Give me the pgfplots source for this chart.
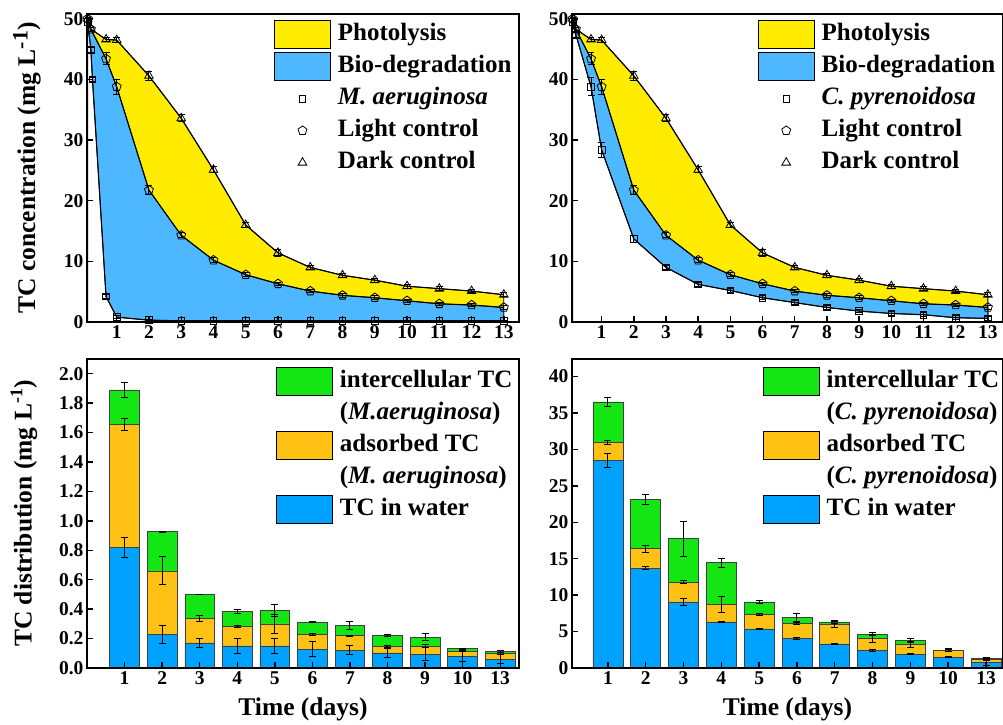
\documentclass[border=0pt]{standalone}
\usepackage{pgfplots}
\usepackage{pgfplotstable}
\pgfplotsset{compat=1.18}
\usepackage{fontspec}
\setmainfont{Liberation Serif}
\definecolor{photoyellow}{HTML}{FFEC00}
\definecolor{bioblue}{HTML}{4DB8FF}
\definecolor{barblue}{HTML}{00A2FF}
\definecolor{barorange}{HTML}{FFC214}
\definecolor{bargreen}{HTML}{14E614}

\pgfplotstableread{
x w we a ae g ge
0 0.820 0.070 0.837 0.040 0.233 0.050
1 0.229 0.060 0.431 0.095 0.266 0.003
2 0.170 0.030 0.166 0.020 0.164 0.002
3 0.150 0.050 0.130 0.007 0.106 0.015
4 0.150 0.050 0.150 0.065 0.090 0.040
5 0.129 0.050 0.100 0.005 0.082 0.005
6 0.120 0.030 0.100 0.004 0.068 0.025
7 0.102 0.030 0.046 0.006 0.074 0.006
8 0.093 0.045 0.055 0.010 0.061 0.025
9 0.080 0.035 0.033 0.003 0.019 0.003
10 0.059 0.030 0.039 0.005 0.015 0.005
}\blM

\pgfplotstableread{
x w we a ae g ge
0 28.45 0.94 2.52 0.30 5.53 0.55
1 13.70 0.20 2.66 0.50 6.74 0.70
2 9.07 0.45 2.71 0.20 5.95 2.40
3 6.32 0.10 2.43 1.10 5.68 0.60
4 5.36 0.10 1.97 0.10 1.74 0.20
5 4.03 0.10 2.06 0.10 0.83 0.60
6 3.30 0.10 2.66 0.40 0.36 0.20
7 2.43 0.10 1.60 0.50 0.60 0.20
8 1.92 0.10 1.29 0.40 0.55 0.30
9 1.51 0.10 0.92 0.10 0.04 0.20
10 0.73 0.40 0.42 0.10 0.22 0.10
}\blC

\pgfplotstableread{
t c e
0.1 50.0 0.2
0.2 48.3 0.3
0.67 46.6 0.4
1 46.5 0.4
2 40.6 0.8
3 33.6 0.6
4 25.1 0.5
5 16.0 0.4
6 11.4 0.6
7 9.0 0.3
8 7.7 0.3
9 6.9 0.3
10 5.9 0.3
11 5.5 0.3
12 5.1 0.3
13 4.5 0.3
}\dark

\pgfplotstableread{
t c e
0.1 50.0 0.2
0.2 48.3 0.3
0.67 43.4 1.0
1 38.8 1.2
2 21.75 0.7
3 14.3 0.4
4 10.2 0.4
5 7.8 0.3
6 6.3 0.3
7 5.1 0.3
8 4.4 0.3
9 4.0 0.3
10 3.5 0.3
11 3.0 0.3
12 2.8 0.3
13 2.4 0.4
}\light

\pgfplotstableread{
t c e
0.1 49.5 0.3
0.2 44.9 0.4
0.25 40.0 0.3
0.67 4.2 0.3
1 0.8 0.2
2 0.3 0.1
3 0.2 0.1
4 0.2 0.1
5 0.2 0.1
6 0.2 0.1
7 0.2 0.1
8 0.2 0.1
9 0.2 0.1
10 0.2 0.1
11 0.2 0.1
12 0.2 0.1
13 0.2 0.1
}\algM

\pgfplotstableread{
t c e
0.1 49.5 0.3
0.2 47.4 0.4
0.67 38.8 1.5
1 28.4 1.2
2 13.7 0.5
3 9.0 0.3
4 6.2 0.3
5 5.2 0.3
6 4.0 0.3
7 3.2 0.3
8 2.4 0.3
9 1.8 0.3
10 1.4 0.3
11 1.2 0.3
12 0.7 0.3
13 0.6 0.3
}\algC

\pgfplotsset{
 base/.style={scale only axis, axis on top,
  axis line style={line width=2.2pt},
  tick style={line width=1.4pt, black}, major tick length=6pt,
  xtick pos=bottom, ytick pos=left, tick align=inside,
  tick label style={font=\fontsize{19.5}{20}\selectfont\bfseries},
  /pgf/number format/assume math mode=true,
  label style={font=\fontsize{25.5}{26}\selectfont\bfseries},
  legend style={draw=none, fill=none, inner sep=0pt, outer sep=0pt, anchor=north west,
    font=\fontsize{25}{26}\selectfont\bfseries, row sep=0pt, column sep=7pt,
    nodes={inner sep=0pt, text height=22pt, text depth=10pt}},
  legend cell align=left},
 legphoto/.style={legend image code/.code={\draw[fill=photoyellow,draw=black,line width=0.9pt] (0pt,-14pt) rectangle (56pt,14pt);}},
 legbio/.style={legend image code/.code={\draw[fill=bioblue,draw=black,line width=0.9pt] (0pt,-14pt) rectangle (56pt,14pt);}},
 leggreen/.style={legend image code/.code={\draw[fill=bargreen,draw=black,line width=0.9pt] (0pt,-14pt) rectangle (56pt,14pt);}},
 legorange/.style={legend image code/.code={\draw[fill=barorange,draw=black,line width=0.9pt] (0pt,-14pt) rectangle (56pt,14pt);}},
 legblue/.style={legend image code/.code={\draw[fill=barblue,draw=black,line width=0.9pt] (0pt,-14pt) rectangle (56pt,14pt);}},
 legsq/.style={legend image code/.code={\draw[black,line width=0.8pt,mark=square,mark size=3.3pt,mark options={fill=white}] plot coordinates {(28pt,0pt)};}},
 legpent/.style={legend image code/.code={\draw[black,line width=0.8pt,mark=pentagon,mark size=4.7pt,mark options={fill=white}] plot coordinates {(28pt,0pt)};}},
 legtri/.style={legend image code/.code={\draw[black,line width=0.8pt,mark=triangle,mark size=5pt,mark options={fill=white}] plot coordinates {(28pt,0pt)};}},
 ln/.style={black, line width=1.1pt, mark options={fill=white, line width=0.8pt},
   error bars/y dir=both, error bars/y explicit,
   error bars/error bar style={line width=0.9pt, black},
   error bars/error mark options={rotate=90, mark size=3.5pt, line width=0.9pt}},
 topax/.style={base, width=431pt, height=308pt, xmin=0.08, xmax=13.47, ymin=0, ymax=50.8,
   xtick={1,...,13}, ytick={0,10,20,30,40,50}},
 barax/.style={base, height=309pt, ybar stacked, bar width=0.79,
   xtick={0,...,10}, xticklabels={1,2,3,4,5,6,7,8,9,10,13},
   xlabel={Time (days)},
   xlabel style={at={(axis description cs:0.5,-0.135)}, anchor=center}},
 barst/.style={draw=black!75, line width=0.7pt,
   error bars/y dir=both, error bars/y explicit,
   error bars/error bar style={line width=1pt, black},
   error bars/error mark options={rotate=90, mark size=3.5pt, line width=1pt}},
}

\begin{document}
\begin{tikzpicture}
% ---------- top left ----------
\begin{axis}[topax, at={(87pt,402pt)}, anchor=south west, width=432pt,
  ylabel={TC concentration (mg L\raisebox{0.3em}{\fontsize{22}{22}\selectfont -1})},
  ylabel style={at={(axis description cs:-0.139,0.5)}, anchor=center},
  legend style={at={(axis description cs:0.433,0.985)}}]
\addplot[fill=photoyellow, draw=black, line width=0.8pt, forget plot] table[x=t,y=c] {\dark} \closedcycle;
\addplot[fill=bioblue, draw=black, line width=0.8pt, forget plot] table[x=t,y=c] {\light} \closedcycle;
\addplot[fill=white, draw=black, line width=0.8pt, forget plot] table[x=t,y=c] {\algM} \closedcycle;
\addplot[ln, mark=square, mark size=3.3pt, forget plot] table[x=t,y=c,y error=e] {\algM};
\addplot[ln, mark=pentagon, mark size=4.7pt, forget plot] table[x=t,y=c,y error=e] {\light};
\addplot[ln, mark=triangle, mark size=5pt, forget plot] table[x=t,y=c,y error=e] {\dark};
\addlegendimage{legphoto}\addlegendentry{Photolysis}
\addlegendimage{legbio}\addlegendentry{Bio-degradation}
\addlegendimage{legsq}\addlegendentry{\textit{M. aeruginosa}}
\addlegendimage{legpent}\addlegendentry{Light control}
\addlegendimage{legtri}\addlegendentry{Dark control}
\end{axis}
% ---------- top right ----------
\begin{axis}[topax, at={(572pt,402pt)}, anchor=south west,
  legend style={at={(axis description cs:0.431,0.985)}}]
\addplot[fill=photoyellow, draw=black, line width=0.8pt, forget plot] table[x=t,y=c] {\dark} \closedcycle;
\addplot[fill=bioblue, draw=black, line width=0.8pt, forget plot] table[x=t,y=c] {\light} \closedcycle;
\addplot[fill=white, draw=black, line width=0.8pt, forget plot] table[x=t,y=c] {\algC} \closedcycle;
\addplot[ln, mark=square, mark size=3.3pt, forget plot] table[x=t,y=c,y error=e] {\algC};
\addplot[ln, mark=pentagon, mark size=4.7pt, forget plot] table[x=t,y=c,y error=e] {\light};
\addplot[ln, mark=triangle, mark size=5pt, forget plot] table[x=t,y=c,y error=e] {\dark};
\addlegendimage{legphoto}\addlegendentry{Photolysis}
\addlegendimage{legbio}\addlegendentry{Bio-degradation}
\addlegendimage{legsq}\addlegendentry{\textit{C. pyrenoidosa}}
\addlegendimage{legpent}\addlegendentry{Light control}
\addlegendimage{legtri}\addlegendentry{Dark control}
\end{axis}
% ---------- bottom left ----------
\begin{axis}[barax, at={(87pt,56pt)}, anchor=south west, width=432pt,
  xmin=-1, xmax=10.5, ymin=0, ymax=2.1,
  ytick={0,0.2,0.4,0.6,0.8,1.0,1.2,1.4,1.6,1.8,2.0},
  yticklabel style={/pgf/number format/.cd, fixed, fixed zerofill, precision=1},
  ylabel={TC distribution (mg L\textsuperscript{-1})},
  ylabel style={at={(axis description cs:-0.146,0.5)}, anchor=center},
  legend style={at={(axis description cs:0.4375,0.98)}}]
\addplot[barst, fill=barblue, forget plot] table[x=x,y=w,y error=we] {\blM};
\addplot[barst, fill=barorange, forget plot] table[x=x,y=a,y error=ae] {\blM};
\addplot[barst, fill=bargreen, forget plot] table[x=x,y=g,y error=ge] {\blM};
\addlegendimage{leggreen}\addlegendentry{intercellular TC}
\addlegendimage{empty legend}\addlegendentry{(\textit{M.aeruginosa})}
\addlegendimage{legorange}\addlegendentry{adsorbed TC}
\addlegendimage{empty legend}\addlegendentry{(\textit{M. aeruginosa})}
\addlegendimage{legblue}\addlegendentry{TC in water}
\end{axis}
% ---------- bottom right ----------
\begin{axis}[barax, at={(572pt,56pt)}, anchor=south west, width=431pt,
  xmin=-0.95, xmax=10.45, ymin=0, ymax=42.4,
  ytick={0,5,10,15,20,25,30,35,40},
  legend style={at={(axis description cs:0.4425,0.98)}}]
\addplot[barst, fill=barblue, forget plot] table[x=x,y=w,y error=we] {\blC};
\addplot[barst, fill=barorange, forget plot] table[x=x,y=a,y error=ae] {\blC};
\addplot[barst, fill=bargreen, forget plot] table[x=x,y=g,y error=ge] {\blC};
\addlegendimage{leggreen}\addlegendentry{intercellular TC}
\addlegendimage{empty legend}\addlegendentry{(\textit{C. pyrenoidosa})}
\addlegendimage{legorange}\addlegendentry{adsorbed TC}
\addlegendimage{empty legend}\addlegendentry{(\textit{C. pyrenoidosa})}
\addlegendimage{legblue}\addlegendentry{TC in water}
\end{axis}
\pgfresetboundingbox
\path (0pt,0pt) rectangle (1003pt,724pt);
\end{tikzpicture}
\end{document}
